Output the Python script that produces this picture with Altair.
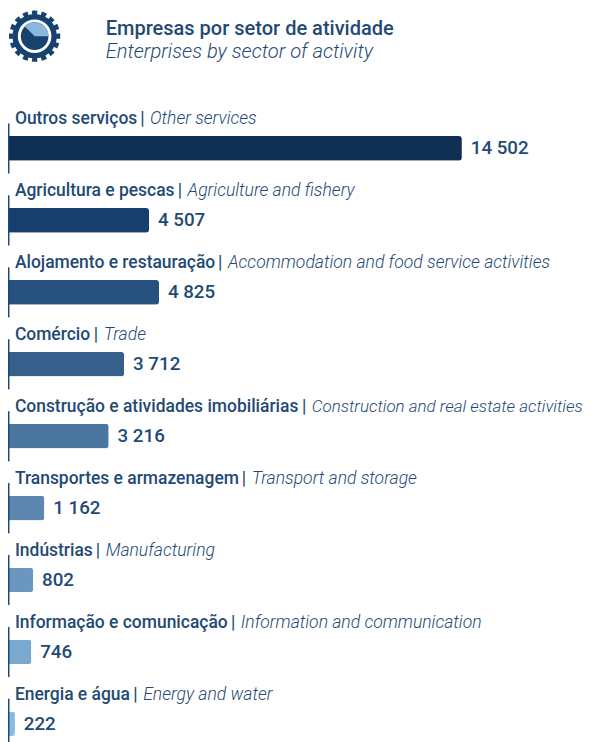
import math
import altair as alt
import pandas as pd

names_pt = ["Outros serviços", "Agricultura e pescas", "Alojamento e restauração", "Comércio",
            "Construção e atividades imobiliárias", "Transportes e armazenagem", "Indústrias",
            "Informação e comunicação", "Energia e água"]
names_en = ["Other services", "Agriculture and fishery", "Accommodation and food service activities",
            "Trade", "Construction and real estate activities", "Transport and storage",
            "Manufacturing", "Information and communication", "Energy and water"]
value_labels = ["14 502", "4 507", "4 825", "3 712", "3 216", "1 162", "802", "746", "222"]
values_num = [14502, 4507, 4825, 3712, 3216, 1162, 802, 746, 222]
colors = ["#0f2f55", "#173f6d", "#27527f", "#365f8c", "#4a76a0", "#5d87b0", "#6b97bf", "#7aa9d0", "#8abbe0"]

W, H = 587, 734
TEXT = "#1f4a75"
FONT = "Roboto"
rows = list(range(9))
x_scale = alt.Scale(domain=[0, 18500], range=[0, W], padding=0, nice=False, zero=False)
y_scale = alt.Scale(domain=[-1.883, 8.182], range=[0, H], padding=0, nice=False, zero=False)
X = alt.X("v:Q", scale=x_scale, axis=None)
Y = alt.Y("row:Q", scale=y_scale, axis=None)

df = pd.DataFrame({"row": rows, "v": values_num, "pt": names_pt, "en": names_en,
                   "lab": value_labels, "color": colors})

bars = alt.Chart(df).mark_bar(size=25, cornerRadiusEnd=3, orient="horizontal").encode(
    x=X, y=Y, color=alt.Color("color:N", scale=None))

rule = alt.Chart(df).mark_rule(color="#1a4a7a", strokeWidth=1.5).transform_calculate(
    a="datum.row-0.348", b="datum.row+0.348"
).encode(x=alt.value(0.75), y=alt.Y("a:Q", scale=y_scale, axis=None), y2="b:Q")

values = alt.Chart(df).mark_text(align="left", baseline="middle", dx=9, font=FONT, fontSize=19,
                                 fontWeight=500, color=TEXT).encode(x=X, y=Y, text="lab:N")

pt = alt.Chart(df).mark_text(align="left", baseline="middle", dy=-29.5, font=FONT, fontSize=17.7,
                             fontWeight=500, color=TEXT).encode(x=alt.value(7), y=Y, text="pt:N")

# horizontal offset of the "|" after each bold name, in pixels
sep_dx = [127, 165, 206, 80, 291, 230, 82, 219, 120]
# English label sizes; the longest label is slightly smaller so it stays inside the page
en_size = [17.8, 17.8, 17.8, 17.8, 17.2, 17.8, 17.8, 17.8, 17.8]
layers = [bars, rule, values, pt]
for r in rows:
    d = df[df.row == r]
    layers.append(alt.Chart(d).mark_text(align="left", baseline="middle", dy=-29.5, dx=sep_dx[r], font=FONT,
                                         fontSize=17.7, fontWeight=500, color=TEXT, text="|")
                  .encode(x=alt.value(7), y=Y))
    layers.append(alt.Chart(d).mark_text(align="left", baseline="middle", dy=-29.5, dx=sep_dx[r] + 10, font=FONT,
                                         fontSize=en_size[r], fontWeight=300, fontStyle="italic", color=TEXT)
                  .encode(x=alt.value(7), y=Y, text="en:N"))

blank = alt.Data(values=[{"k": 0}])
GX, GY = 27, 23.5
TAU = 2 * math.pi
def arc(r0, r1, a0, a1, c):
    return alt.Chart(blank).mark_arc(radius=r1, radius2=r0, theta=a0, theta2=a1, color=c).encode(
        x=alt.value(GX), y=alt.value(GY))

DARK = "#17426f"
for i in range(16):
    a = TAU * i / 16 + TAU
    layers.append(arc(21, 26, a - 0.11, a + 0.11, DARK))
layers.append(arc(17, 22.5, 0, TAU, DARK))
layers.append(arc(0, 14, 0, TAU, DARK))
layers.append(arc(0, 14, TAU * 7 / 8, TAU * 5 / 4, "#8ab8dc"))

layers.append(alt.Chart(blank).mark_text(align="left", baseline="middle", font=FONT, fontSize=20.3, fontWeight=500,
                                         color=TEXT, text="Empresas por setor de atividade")
              .encode(x=alt.value(99), y=alt.value(16)))
layers.append(alt.Chart(blank).mark_text(align="left", baseline="middle", font=FONT, fontSize=20.4, fontWeight=300,
                                         fontStyle="italic", color=TEXT, text="Enterprises by sector of activity")
              .encode(x=alt.value(99), y=alt.value(40)))

chart = alt.layer(*layers).resolve_scale(color="independent").properties(
    width=W, height=H, padding=0, autosize=alt.AutoSizeParams(type="none"),
    background="white",
).configure_view(stroke=None)

chart.save("out.html", embed_options={"renderer": "svg", "actions": False})
